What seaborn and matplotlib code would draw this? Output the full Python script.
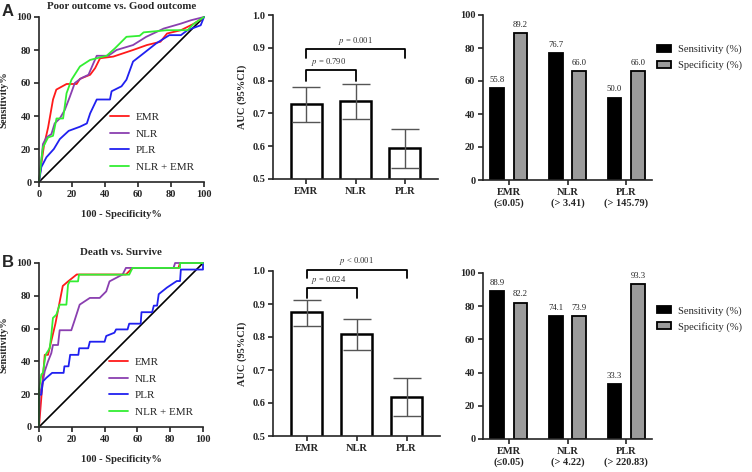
import numpy as np
import pandas as pd
import matplotlib
matplotlib.use("Agg")
import matplotlib.pyplot as plt
import seaborn as sns

# ---- ROC data, panel A: poor vs good outcome
emr_a_x = [0, 1.4, 3, 5.5, 8.5, 10.5, 16.7, 22.8, 24.8, 31, 34, 37, 45, 57, 65.4, 73.6, 77.6, 86, 94, 100]
emr_a_y = [0, 11, 22, 33, 50, 56, 59.4, 59.4, 62.5, 65, 69, 75, 76, 80, 83, 85, 90, 92, 96, 100]
nlr_a_x = [0, 0.8, 2.4, 4.5, 7.5, 9.5, 12.6, 15.6, 18.7, 21.7, 25.8, 30, 33, 35, 42, 47, 57, 65, 75.6, 86, 92, 100]
nlr_a_y = [0, 7, 23, 27, 29, 35.5, 38.5, 43.6, 51.7, 60, 63, 65, 72, 76.5, 76.5, 80, 83, 88, 93, 96, 98, 100]
plr_a_x = [0, 1.4, 4.5, 9, 12.6, 18, 24.8, 29, 31, 35, 43, 44, 50, 53, 57, 63.4, 71, 79, 86, 90, 98, 100]
plr_a_y = [0, 9, 15, 20, 26, 31, 33.5, 35.5, 41.6, 50, 50, 55, 58, 62, 73, 78, 84, 89, 89, 92, 95, 100]
cmb_a_x = [0, 1.4, 2.4, 5.5, 8.5, 10.6, 14.6, 16.7, 19.7, 24.8, 31, 41, 46, 53, 61, 63.4, 77.6, 90, 94, 100]
cmb_a_y = [0, 13, 21, 27, 28, 38.5, 38.5, 53.8, 62, 70, 74, 76.5, 81, 88, 88.6, 90.7, 92, 92, 96, 100]

# panel B: death vs survive
emr_b_x = [0, 3.5, 5.5, 10, 14.5, 18, 23, 53, 57, 85, 86, 100]
emr_b_y = [0, 44, 44, 63, 86, 89, 93, 93, 97, 97, 100, 100]
nlr_b_x = [0, 0.4, 2.4, 3.5, 5.5, 7.5, 8.5, 11.6, 12.6, 19.7, 21.7, 24.8, 31, 37, 41, 43, 51, 53, 82, 83, 100]
nlr_b_y = [0, 19.7, 28, 34, 40, 45, 50, 50, 59, 59, 65, 74.6, 78.7, 78.7, 82.7, 88.8, 93, 97, 97, 100, 100]
plr_b_x = [0, 0, 1.4, 2.4, 4.5, 8, 15, 15.5, 18, 19, 24, 24.5, 30, 31, 40, 41, 46, 47, 54, 55, 62, 62.5,
           69, 70, 72, 73, 78, 84, 86, 86.5, 100, 100]
plr_b_y = [0, 19.7, 19.7, 27.8, 30, 33, 33, 37, 37, 44, 44, 48, 48, 52, 52, 55.5, 57.5, 59.5, 59.5, 63, 63, 70,
           70, 74, 74, 81, 85, 89, 89, 96, 96, 100]
cmb_b_x = [0, 0, 1.4, 2.4, 4, 6.5, 7.5, 8.5, 10.6, 12.6, 16.7, 17.7, 18.7, 23.8, 24.4, 55, 57, 86, 86, 100]
cmb_b_y = [0, 22, 32, 33, 44, 48, 56, 66.5, 68.5, 74.6, 74.6, 86.8, 88.8, 88.8, 92.9, 92.9, 97, 97, 100, 100]

# ---- AUC (95% CI)
markers = ["EMR", "NLR", "PLR"]
auc_a = [0.729, 0.738, 0.595]
ci_lo_a = [0.675, 0.683, 0.535]
ci_hi_a = [0.782, 0.790, 0.653]
auc_b = [0.875, 0.808, 0.618]
ci_lo_b = [0.833, 0.760, 0.560]
ci_hi_b = [0.913, 0.855, 0.676]
p_a = ["$p$ = 0.790", "$p$ = 0.001"]
p_b = ["$p$ = 0.024", "$p$ < 0.001"]

# ---- sensitivity / specificity at cut-offs
cut_a = ["EMR\n(≤0.05)", "NLR\n(> 3.41)", "PLR\n(> 145.79)"]
cut_b = ["EMR\n(≤0.05)", "NLR\n(> 4.22)", "PLR\n(> 220.83)"]
sens_a = [55.8, 76.7, 50.0]
spec_a = [89.2, 66.0, 66.0]
sens_b = [88.9, 74.1, 33.3]
spec_b = [82.2, 73.9, 93.3]

sns.set_style("ticks")
plt.rcParams['font.family'] = ['Liberation Serif', 'DejaVu Serif']
plt.rcParams['mathtext.fontset'] = 'stix'
plt.rcParams['axes.linewidth'] = 1.2

W, H = 752, 472
fig = plt.figure(figsize=(W / 100, H / 100), dpi=100)


def box(l, r, t, b):
    return fig.add_axes([l / W, 1 - b / H, (r - l) / W, (b - t) / H])


def style(ax):
    sns.despine(ax=ax)
    ax.tick_params(width=1.2, length=3.5, labelsize=7.5, pad=2)
    for lab in ax.get_xticklabels() + ax.get_yticklabels():
        lab.set_fontweight("bold")


def roc(ax, curves, title):
    cols = ["#ff1a1a", "#8a3fb0", "#2020f0", "#33ee33"]
    names = ["EMR", "NLR", "PLR", "NLR + EMR"]
    ax.plot([0, 100], [0, 100], color="black", lw=1.2)
    for (x, y), c, n in zip(curves, cols, names):
        sns.lineplot(x=x, y=y, sort=False, estimator=None, color=c, lw=1.3, label=n, ax=ax)
    for ln in ax.lines:
        ln.set_clip_on(False)
    ax.set_xlim(0, 100)
    ax.set_ylim(0, 100)
    ax.set_xticks(range(0, 101, 20))
    ax.set_yticks(range(0, 101, 20))
    ax.set_xlabel("100 - Specificity%", fontsize=7.5, fontweight="bold", labelpad=8)
    ax.set_ylabel("Sensitivity%", fontsize=7.5, fontweight="bold", labelpad=5)
    ax.set_title(title, fontsize=7.8, fontweight="bold", pad=6)
    ax.legend(loc="lower right", bbox_to_anchor=(1.0, 0.0), frameon=False, fontsize=8,
              handlelength=1.7, handletextpad=0.6, labelspacing=0.62)
    style(ax)


def aucplot(ax, auc, lo, hi, ptxt, br):
    sns.barplot(x=markers, y=auc, color="white", edgecolor="black", linewidth=1.8, width=0.63, ax=ax)
    pos = np.arange(len(markers))
    ax.errorbar(pos, auc, yerr=[np.array(auc) - lo, np.array(hi) - auc], fmt="none",
                ecolor="#555555", elinewidth=1, capsize=10, capthick=1)
    ax.set_ylim(0.5, 1.0)
    ax.set_xlim(-0.67, 2.67)
    ax.set_yticks(np.arange(0.5, 1.01, 0.1))
    ax.set_ylabel("AUC (95%CI)", fontsize=7.5, fontweight="bold", labelpad=4)
    ax.tick_params(axis="x", length=0)
    for (x2, top, foot, ty), t in zip(br, ptxt):
        ax.plot([0, 0, x2, x2], [foot, top, top, foot], color="black", lw=1.3, clip_on=False)
        ax.text(x2 / 2 - 0.05 * (x2 == 1), ty, t, ha="center", va="center", fontsize=6.2, color="#333333")
    style(ax)


def ssplot(ax, cuts, sens, spec, ymax):
    df = pd.DataFrame({"cut": cuts * 2,
                       "metric": ["Sensitivity (%)"] * 3 + ["Specificity (%)"] * 3,
                       "value": sens + spec})
    sns.barplot(data=df, x="cut", y="value", hue="metric", palette=["black", "#9b9b9b"],
                edgecolor="black", linewidth=1.3, width=0.8, gap=0.42, ax=ax)
    for cont in ax.containers:
        ax.bar_label(cont, fmt="%.1f", fontsize=6.2, padding=3, color="#222222")
    ax.set_ylim(0, 100)
    ax.set_xlim(-0.44, 2.44)
    ax.set_yticks(range(0, 101, 20))
    ax.set_xlabel("")
    ax.set_ylabel("")
    sns.move_legend(ax, "upper left", bbox_to_anchor=(0.99, ymax), frameon=False, title=None,
                    fontsize=7.6, handlelength=1.4, handleheight=0.65, handletextpad=0.6,
                    labelspacing=0.6, borderaxespad=0.2)
    style(ax)


ax = box(39, 204, 17, 182)
roc(ax, [(emr_a_x, emr_a_y), (nlr_a_x, nlr_a_y), (plr_a_x, plr_a_y), (cmb_a_x, cmb_a_y)],
    "Poor outcome vs. Good outcome")
ax = box(273, 438, 15, 179)
aucplot(ax, auc_a, ci_lo_a, ci_hi_a, p_a, [(1, 0.832, 0.80, 0.857), (2, 0.896, 0.869, 0.92)])
ax = box(483, 652, 15, 180)
ssplot(ax, cut_a, sens_a, spec_a, 0.86)

ax = box(39, 203, 263, 427)
roc(ax, [(emr_b_x, emr_b_y), (nlr_b_x, nlr_b_y), (plr_b_x, plr_b_y), (cmb_b_x, cmb_b_y)],
    "Death vs. Survive")
ax = box(273, 440, 271, 436)
aucplot(ax, auc_b, ci_lo_b, ci_hi_b, p_b, [(1, 0.948, 0.918, 0.972), (2, 1.003, 0.98, 1.03)])
ax = box(483, 652, 273, 439)
ssplot(ax, cut_b, sens_b, spec_b, 0.84)

fig.text(2 / W, 1 - 4 / H, "A", fontsize=12, fontweight="bold", family="Liberation Sans", va="top")
fig.text(2 / W, 1 - 255 / H, "B", fontsize=12, fontweight="bold", family="Liberation Sans", va="top")

fig.savefig("out.png", dpi=100)
